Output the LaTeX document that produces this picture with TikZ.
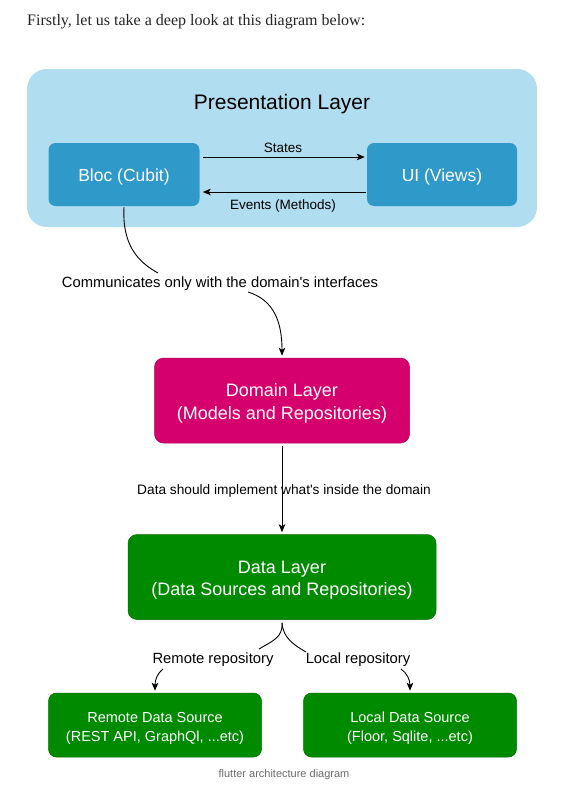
\documentclass[tikz,border=0pt]{standalone}
\usepackage{fontspec}
\setmainfont{Liberation Sans}[Ligatures=TeXOff]
\newfontfamily\seriffont{Liberation Serif}[Ligatures=TeXOff]
\usetikzlibrary{arrows.meta}
\definecolor{outerblue}{HTML}{B1DDF0}
\definecolor{innerblue}{HTML}{2F9ACA}
\definecolor{domainmag}{HTML}{D5006E}
\definecolor{datagreen}{HTML}{008A00}
\definecolor{greenline}{HTML}{006B00}
\definecolor{headtext}{HTML}{242424}
\definecolor{captext}{HTML}{6B6B6B}
\tikzset{
  box/.style={rectangle, rounded corners=7pt, inner sep=0pt},
  boxtext/.style={inner sep=0pt, align=center, text=white, yshift=-3pt},
  lbl/.style={inner sep=0pt, align=center, text=black},
  conn/.style={draw=black, line width=0.9pt},
  arr/.style={conn, -{Stealth[length=8pt,width=6.5pt,inset=2pt]}},
}
\begin{document}
\begin{tikzpicture}[x=1pt,y=-1pt]
\useasboundingbox (0,0) rectangle (573,787);
\fill[white] (0,0) rectangle (573,787);

% header
\node[anchor=west, inner sep=0pt, text=headtext, font=\seriffont\fontsize{16}{19}\selectfont] (head) at (27,21.5) {Firstly, let us take a deep look at this diagram below:};

% presentation layer
\node[box, fill=outerblue, rounded corners=20pt, minimum width=510pt, minimum height=158pt] (outer) at (282,148) {};
\node[lbl, font=\fontsize{21}{25}\selectfont] (title) at (282,104.5) {Presentation Layer};
\node[box, fill=innerblue, minimum width=151pt, minimum height=63pt,
  label={[boxtext, yshift=1pt, font=\fontsize{17.5}{21}\selectfont]center:Bloc (Cubit)}] (bloc) at (124,174.5) {};
\node[box, fill=innerblue, minimum width=150pt, minimum height=63pt,
  label={[boxtext, yshift=1pt, font=\fontsize{17.5}{21}\selectfont]center:UI (Views)}] (ui) at (442,174.5) {};
\node[lbl, font=\fontsize{13.5}{16}\selectfont] (states) at (283,147.5) {States};
\node[lbl, font=\fontsize{13.5}{16}\selectfont] (events) at (283,206.5) {Events (Methods)};
\draw[arr] ([xshift=3pt,yshift=17.5pt]bloc.east) -- ([xshift=-2pt,yshift=17.5pt]ui.west);
\draw[arr] ([xshift=-1pt,yshift=-17.5pt]ui.west) -- ([xshift=3pt,yshift=-17.5pt]bloc.east);

% communicates label and curves
\node[lbl, font=\fontsize{14.8}{18}\selectfont] (comm) at (220,284) {Communicates only with the domain's interfaces};
\coordinate (c1e) at (158,273);
\coordinate (c2s) at (248,292);

% domain layer
\node[box, fill=domainmag, draw=domainmag!80!black, line width=0.5pt, rounded corners=9pt, minimum width=255pt, minimum height=85pt,
  label={[boxtext, font=\fontsize{18}{22.5}\selectfont]center:Domain Layer\\(Models and Repositories)}] (domain) at (282,400.5) {};
\draw[conn] ([yshift=-1pt]bloc.south) .. controls (122,245) and (138,262) .. (c1e);
\draw[arr] (c2s) .. controls (274,300) and (282,322) .. ([yshift=2pt]domain.north);

% data layer
\node[box, fill=datagreen, draw=greenline, line width=0.5pt, rounded corners=9pt, minimum width=308pt, minimum height=85pt,
  label={[boxtext, font=\fontsize{18}{22.5}\selectfont]center:Data Layer\\(Data Sources and Repositories)}] (data) at (282,577) {};
\draw[arr] ([yshift=-3pt]domain.south) -- ([yshift=2pt]data.north);
\node[lbl, font=\fontsize{13.7}{16}\selectfont] (impl) at (284,491) {Data should implement what's inside the domain};

% fork
\coordinate (c3) at (259,649);
\coordinate (c4) at (306,652);
\coordinate (c5) at (163,669);
\coordinate (c6) at (401,669);
\draw[conn] ([yshift=-3pt]data.south) .. controls (283,638) and (272,641) .. (c3);
\draw[conn] ([yshift=-3pt]data.south) .. controls (283,638) and (294,645) .. (c4);
\node[lbl, font=\fontsize{14.8}{18}\selectfont] (remrep) at (213,660) {Remote repository};
\node[lbl, font=\fontsize{14.8}{18}\selectfont] (locrep) at (358,660) {Local repository};

% bottom boxes
\node[box, fill=datagreen, draw=greenline, line width=0.5pt, rounded corners=8pt, minimum width=213pt, minimum height=64pt,
  label={[boxtext, font=\fontsize{14.5}{19}\selectfont]center:Remote Data Source\\(REST API, GraphQl, ...etc)}] (remote) at (155,725) {};
\node[box, fill=datagreen, draw=greenline, line width=0.5pt, rounded corners=8pt, minimum width=213pt, minimum height=64pt,
  label={[boxtext, font=\fontsize{14.5}{19}\selectfont]center:Local Data Source\\(Floor, Sqlite, ...etc)}] (local) at (410,725) {};
\draw[arr] (c5) .. controls (157,674) and (155,680) .. ([yshift=2pt]remote.north);
\draw[arr] (c6) .. controls (407,673) and (410,680) .. ([yshift=2pt]local.north);

% caption
\node[lbl, text=captext, font=\fontsize{11}{13}\selectfont] (cap) at (284,774.5) {flutter architecture diagram};
\end{tikzpicture}
\end{document}
